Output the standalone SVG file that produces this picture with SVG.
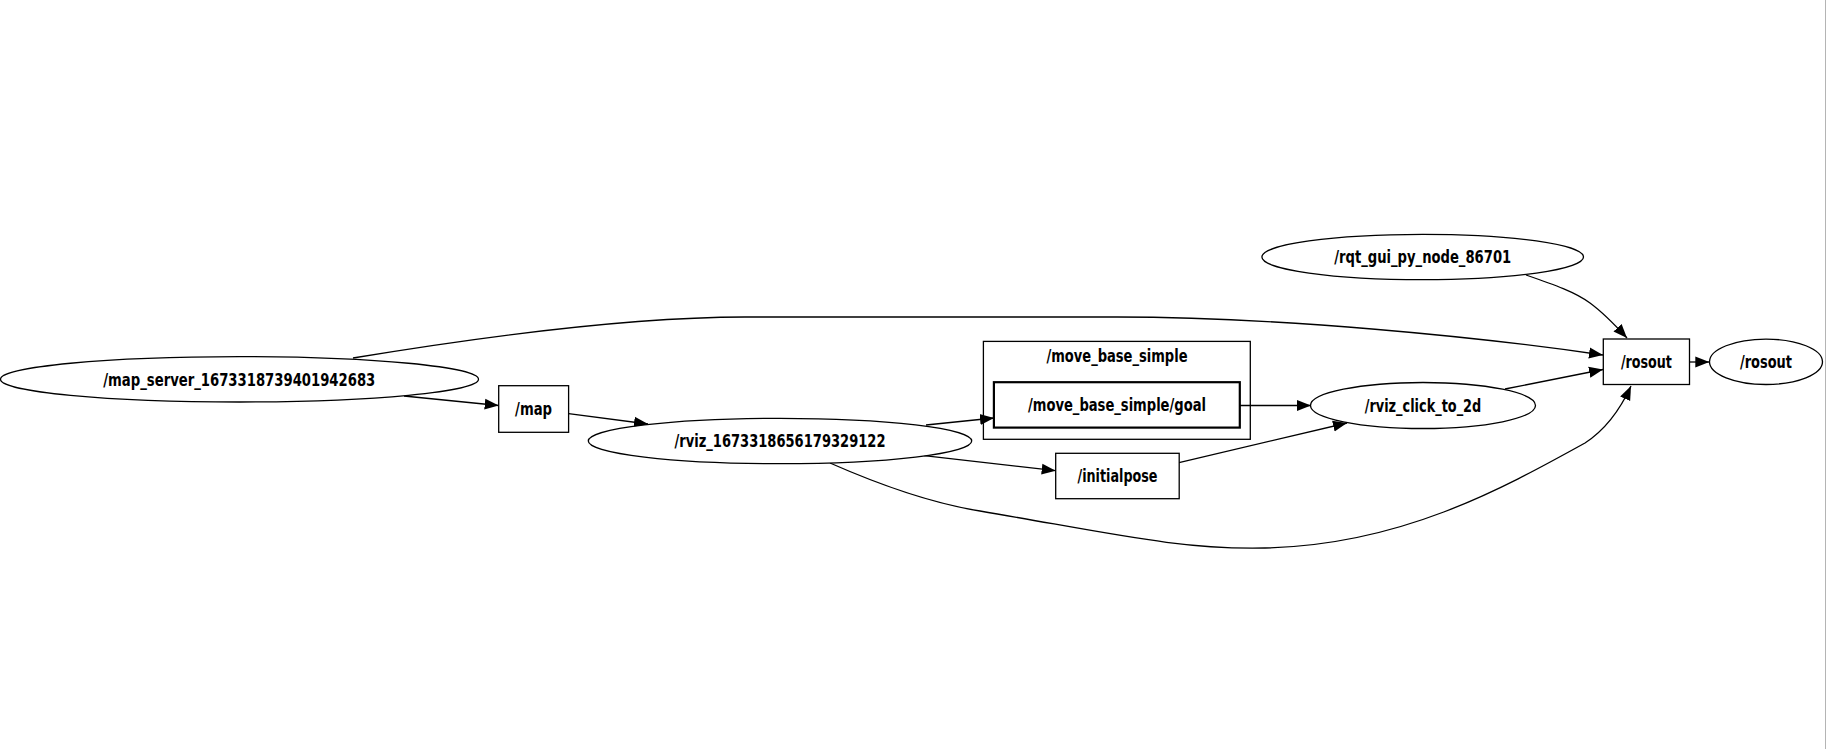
<svg xmlns="http://www.w3.org/2000/svg" width="1827" height="749" viewBox="0 0 1827 749">
<style>
.n{fill:#fff;stroke:#000;stroke-width:1.3}
.g{fill:#fff;stroke:#000;stroke-width:2.2}
.c{fill:none;stroke:#000;stroke-width:1.3}
.t{font-family:"DejaVu Sans Condensed","DejaVu Sans",sans-serif;font-weight:bold;font-size:17px;fill:#000;text-anchor:middle}
.e{fill:none;stroke:#000;stroke-width:1.3}
</style>
<defs>
<marker id="ah" markerUnits="userSpaceOnUse" markerWidth="15" markerHeight="12" refX="14" refY="5.5" orient="auto" viewBox="0 0 15 11">
<path d="M0,0 L14,5.5 L0,11 Z" fill="#000"/>
</marker>
</defs>
<rect x="0" y="0" width="1827" height="749" fill="#fff"/>
<line x1="1825.5" y1="0" x2="1825.5" y2="749" stroke="#b4b4b4" stroke-width="1"/>
<g id="edges">
<path class="e" marker-end="url(#ah)" d="M404,396 L498.7,405.5"/>
<path class="e" marker-end="url(#ah)" d="M353,358 C450,342 620,317 745,317 L1117,317 C1280,317 1480,337 1603,355"/>
<path class="e" marker-end="url(#ah)" d="M568.6,413.6 L648,424"/>
<path class="e" marker-end="url(#ah)" d="M926,425 L994,418"/>
<path class="e" marker-end="url(#ah)" d="M924,455.6 L1055.7,470.7"/>
<path class="e" marker-end="url(#ah)" d="M830,463 C880,485 930,503 980,511 C1110,533 1180,550 1265,548 C1400,545 1500,490 1585,443 C1605,430 1620,410 1631,386"/>
<path class="e" marker-end="url(#ah)" d="M1240,405.5 L1311,405.5"/>
<path class="e" marker-end="url(#ah)" d="M1179,462.6 L1347,423"/>
<path class="e" marker-end="url(#ah)" d="M1505,389 L1603,369.5"/>
<path class="e" marker-end="url(#ah)" d="M1526,275 C1555,285 1575,292 1590,303 C1605,314 1616,326 1627,338"/>
<path class="e" marker-end="url(#ah)" d="M1689.5,362 L1709.3,362"/>
</g>
<g id="map_server">
<ellipse class="n" cx="239.5" cy="379.3" rx="239" ry="22.7"/>
<text class="t" x="239.3" y="385.5" textLength="272" lengthAdjust="spacingAndGlyphs">/map_server_1673318739401942683</text>
</g>
<g id="map">
<rect class="n" x="498.7" y="385.7" width="69.9" height="46.6"/>
<text class="t" x="533.6" y="415.2" textLength="37" lengthAdjust="spacingAndGlyphs">/map</text>
</g>
<g id="rviz">
<ellipse class="n" cx="780" cy="441" rx="191.7" ry="22.7"/>
<text class="t" x="780" y="447.2" textLength="211" lengthAdjust="spacingAndGlyphs">/rviz_1673318656179329122</text>
</g>
<g id="move_base_simple">
<rect class="c" x="983.4" y="341.4" width="266.9" height="97.9"/>
<text class="t" x="1117" y="361.9" textLength="141" lengthAdjust="spacingAndGlyphs">/move_base_simple</text>
</g>
<g id="goal">
<rect class="g" x="993.9" y="382.2" width="245.9" height="45.4"/>
<text class="t" x="1117" y="411.1" textLength="178" lengthAdjust="spacingAndGlyphs">/move_base_simple/goal</text>
</g>
<g id="initialpose">
<rect class="n" x="1055.7" y="453.3" width="123.5" height="45.4"/>
<text class="t" x="1117.5" y="482.2" textLength="80" lengthAdjust="spacingAndGlyphs">/initialpose</text>
</g>
<g id="rviz_click_to_2d">
<ellipse class="n" cx="1423" cy="405.5" rx="112.5" ry="23"/>
<text class="t" x="1423" y="411.7" textLength="116.5" lengthAdjust="spacingAndGlyphs">/rviz_click_to_2d</text>
</g>
<g id="rqt_gui">
<ellipse class="n" cx="1422.7" cy="257" rx="160.8" ry="22.7"/>
<text class="t" x="1422.7" y="263.2" textLength="177" lengthAdjust="spacingAndGlyphs">/rqt_gui_py_node_86701</text>
</g>
<g id="rosout_topic">
<rect class="n" x="1603.3" y="339" width="86.2" height="45.5"/>
<text class="t" x="1646.4" y="368" textLength="51" lengthAdjust="spacingAndGlyphs">/rosout</text>
</g>
<g id="rosout_node">
<ellipse class="n" cx="1766" cy="361.8" rx="56.5" ry="22.7"/>
<text class="t" x="1766" y="368" textLength="52" lengthAdjust="spacingAndGlyphs">/rosout</text>
</g>
</svg>
